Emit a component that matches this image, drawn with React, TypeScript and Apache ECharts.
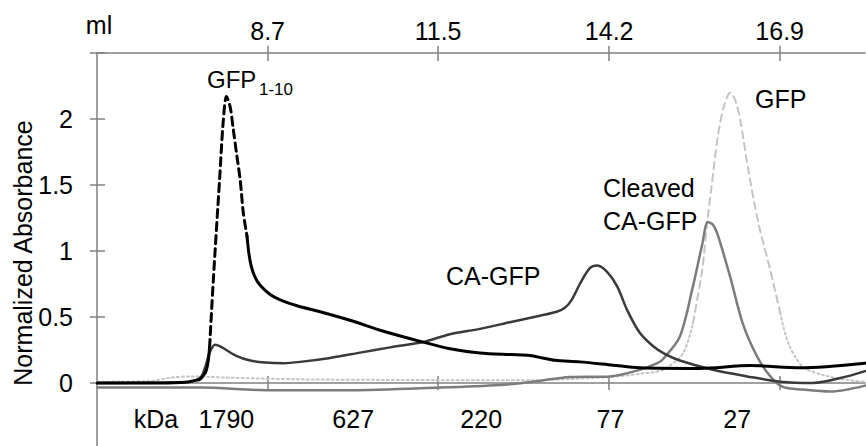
import React, { useEffect, useRef } from "react";
import * as echarts from "echarts";

// Elution volume (ml) vs normalized absorbance
const gfp110Rise: [number, number][] = [
  [5.97, 0.0], [6.5, 0.0], [6.98, 0.0], [7.38, 0.005], [7.54, 0.02], [7.62, 0.03], [7.72, 0.1], [7.77, 0.27],
];
const gfp110Peak: [number, number][] = [
  [7.77, 0.27], [7.83, 0.78], [7.93, 1.54], [7.99, 1.99], [8.04, 2.17], [8.1, 2.09], [8.15, 1.92],
  [8.21, 1.71], [8.26, 1.54], [8.31, 1.29], [8.37, 1.11],
];
const gfp110Tail: [number, number][] = [
  [8.37, 1.11], [8.4, 0.98], [8.44, 0.88], [8.5, 0.8], [8.58, 0.74], [8.74, 0.67], [8.9, 0.63], [9.17, 0.585],
  [9.54, 0.54], [10.02, 0.475], [10.5, 0.4], [11.19, 0.31], [11.62, 0.26], [12.1, 0.228],
  [12.6, 0.215], [12.9, 0.208], [13.1, 0.19], [13.3, 0.172], [13.7, 0.16], [14.23, 0.135], [14.66, 0.115],
  [15.62, 0.11], [16.43, 0.132], [17.23, 0.115], [18.27, 0.15],
];
const caGfp: [number, number][] = [
  [5.97, 0.0], [7.38, 0.005], [7.62, 0.04], [7.7, 0.12], [7.78, 0.24], [7.86, 0.29], [7.97, 0.27],
  [8.18, 0.21], [8.42, 0.17], [8.66, 0.155], [8.95, 0.15], [9.22, 0.16], [9.7, 0.19], [10.18, 0.23],
  [10.66, 0.27], [11.19, 0.31], [11.62, 0.37], [12.1, 0.41], [12.58, 0.46], [13.06, 0.51],
  [13.33, 0.54], [13.46, 0.57], [13.57, 0.63], [13.7, 0.75], [13.86, 0.87], [13.98, 0.89],
  [14.14, 0.84], [14.3, 0.73], [14.46, 0.55], [14.66, 0.38], [14.87, 0.28], [15.06, 0.22],
  [15.3, 0.17], [15.83, 0.1], [16.38, 0.05], [16.91, 0.01], [17.43, 0.0], [17.98, 0.05], [18.27, 0.09],
];
const cleavedCaGfp: [number, number][] = [
  [5.97, -0.035], [7.62, -0.035], [8.74, -0.055], [10.02, -0.055], [11.46, -0.035], [12.42, -0.015],
  [12.95, 0.01], [13.54, 0.045], [14.18, 0.05], [14.66, 0.1], [14.94, 0.15], [15.03, 0.18],
  [15.3, 0.35], [15.51, 0.73], [15.66, 1.05], [15.75, 1.22], [15.83, 1.2], [15.91, 1.12],
  [16.11, 0.8], [16.31, 0.45], [16.54, 0.2], [16.75, 0.05], [16.95, -0.03], [17.27, -0.05],
  [17.71, -0.065], [18.27, -0.02],
];
const gfpLow1: [number, number][] = [
  [5.97, 0.01], [6.82, 0.015], [7.14, 0.04], [7.46, 0.05], [8.1, 0.04], [9.22, 0.028], [10.82, 0.023],
  [12.9, 0.02], [13.54, 0.03], [14.18, 0.045], [14.66, 0.07], [15.03, 0.1], [15.35, 0.225], [15.51, 0.45],
];
const gfpPeak: [number, number][] = [
  [15.51, 0.45], [15.66, 0.86], [15.74, 1.22], [15.81, 1.49], [15.91, 1.87], [16.01, 2.1], [16.11, 2.2],
  [16.19, 2.14], [16.27, 1.99], [16.4, 1.61], [16.56, 1.21], [16.75, 0.856], [16.91, 0.53],
];
const gfpLow2: [number, number][] = [
  [16.91, 0.53], [17.04, 0.3], [17.27, 0.123], [17.6, 0.06], [17.98, 0.023], [18.27, 0.01],
];

const mlTickValues = [8.7, 11.43, 14.17, 16.9];
const mlTickLabels = ["8.7", "11.5", "14.2", "16.9"];
const kdaLabelValues = [6.91, 8.04, 10.07, 12.12, 14.19, 16.22];
const kdaLabels = ["kDa", "1790", "627", "220", "77", "27"];

const FONT = '"Liberation Sans", Arial, sans-serif';
const FS = 25;
const AXIS = "#808080";

export default function App() {
  const ref = useRef<HTMLDivElement>(null);
  useEffect(() => {
    if (!ref.current) return;
    const chart = echarts.init(ref.current, null, { renderer: "svg" });
    const xBase = {
      type: "value",
      min: 5.967,
      max: 18.267,
      splitLine: { show: false },
    };
    const lineSeries = (name: string, data: [number, number][], color: string, width: number, type: any) => ({
      type: "line",
      name,
      data,
      xAxisIndex: 0,
      yAxisIndex: 0,
      showSymbol: false,
      symbol: "none",
      smooth: 0.3,
      lineStyle: { color, width, type, cap: "round", join: "round" },
      silent: true,
    });
    const txt = (text: string, x: number, y: number, size = FS) => ({
      type: "text",
      x,
      y,
      style: { text, font: `${size}px ${FONT}`, fill: "#000", textAlign: "left", textVerticalAlign: "middle" },
    });
    chart.setOption({
      animation: false,
      grid: { left: 97, top: 53, width: 768, height: 396, containLabel: false, outerBoundsMode: "none" },
      xAxis: [
        {
          ...xBase,
          position: "bottom",
          axisLine: { onZero: true, lineStyle: { color: AXIS, width: 1.5 } },
          axisTick: { customValues: mlTickValues, length: 7, lineStyle: { color: AXIS, width: 1.5 } },
          axisLabel: { show: false },
        },
        {
          ...xBase,
          position: "bottom",
          axisLine: { show: false, onZero: true },
          axisTick: { customValues: mlTickValues, inside: true, length: 7, lineStyle: { color: AXIS, width: 1.5 } },
          axisLabel: { show: false },
        },
        {
          ...xBase,
          position: "top",
          axisLine: { onZero: false, lineStyle: { color: AXIS, width: 1.5 } },
          axisTick: { customValues: mlTickValues, length: 7, lineStyle: { color: AXIS, width: 1.5 } },
          axisLabel: {
            customValues: mlTickValues,
            formatter: (v: number) => {
              const i = mlTickValues.findIndex((t) => Math.abs(t - v) < 1e-6);
              return i >= 0 ? mlTickLabels[i] : "";
            },
            margin: 10,
            fontSize: FS,
            fontFamily: FONT,
            color: "#000",
          },
        },
        {
          ...xBase,
          position: "top",
          axisLine: { show: false, onZero: false },
          axisTick: { customValues: mlTickValues, inside: true, length: 8, lineStyle: { color: AXIS, width: 1.5 } },
          axisLabel: { show: false },
        },
        {
          ...xBase,
          position: "bottom",
          axisLine: { show: false, onZero: false },
          axisTick: { show: false },
          axisLabel: {
            inside: true,
            customValues: kdaLabelValues,
            formatter: (v: number) => {
              const i = kdaLabelValues.findIndex((t) => Math.abs(t - v) < 1e-6);
              return i >= 0 ? kdaLabels[i] : "";
            },
            margin: 18,
            fontSize: FS,
            fontFamily: FONT,
            color: "#000",
          },
        },
      ],
      yAxis: [
        {
          type: "value",
          position: "left",
          min: -0.5,
          max: 2.5,
          interval: 0.5,
          splitLine: { show: false },
          axisLine: { show: true, onZero: false, lineStyle: { color: AXIS, width: 1.5 } },
          axisTick: { show: true, length: 7, lineStyle: { color: AXIS, width: 1.5 } },
          axisLabel: {
            formatter: (v: number) => (v < 0 || v > 2.4 ? "" : String(v)),
            margin: 24,
            fontSize: FS,
            fontFamily: FONT,
            color: "#000",
            padding: [4, 0, 0, 0],
          },
        },
        {
          type: "value",
          position: "left",
          min: -0.5,
          max: 2.5,
          interval: 0.5,
          splitLine: { show: false },
          axisLine: { show: false, onZero: false },
          axisTick: { show: true, inside: true, length: 8, lineStyle: { color: AXIS, width: 1.5 } },
          axisLabel: { show: false },
        },
      ],
      graphic: [
        {
          type: "text",
          x: 23,
          y: 253,
          rotation: Math.PI / 2,
          style: { text: "Normalized Absorbance", font: `${FS}px ${FONT}`, fill: "#000", textAlign: "center", textVerticalAlign: "middle" },
        },
        {
          type: "text",
          x: 99,
          y: 25,
          style: { text: "ml", font: `${FS}px ${FONT}`, fill: "#000", textAlign: "center", textVerticalAlign: "middle" },
        },
        txt("GFP", 207, 79, 24),
        txt("1-10", 259, 89, 17),
        txt("GFP", 755, 99),
        txt("CA-GFP", 446, 276),
        txt("Cleaved", 603, 188),
        txt("CA-GFP", 603, 221),
      ],
      series: [
        lineSeries("GFP low", gfpLow1, "#c4c4c4", 2, [2, 3]),
        lineSeries("GFP peak", gfpPeak, "#c4c4c4", 2, [7, 5]),
        lineSeries("GFP low 2", gfpLow2, "#c4c4c4", 2, [2, 3]),
        lineSeries("Cleaved CA-GFP", cleavedCaGfp, "#7c7c7c", 2.5, "solid"),
        lineSeries("CA-GFP", caGfp, "#3a3a3a", 2.5, "solid"),
        lineSeries("GFP1-10 rise", gfp110Rise, "#000", 3, "solid"),
        lineSeries("GFP1-10 peak", gfp110Peak, "#000", 3, [8, 5]),
        lineSeries("GFP1-10 tail", gfp110Tail, "#000", 3, "solid"),
      ],
    });
    return () => chart.dispose();
  }, []);
  return <div ref={ref} style={{ position: "absolute", left: 0, top: 0, width: 866, height: 446 }} />;
}
